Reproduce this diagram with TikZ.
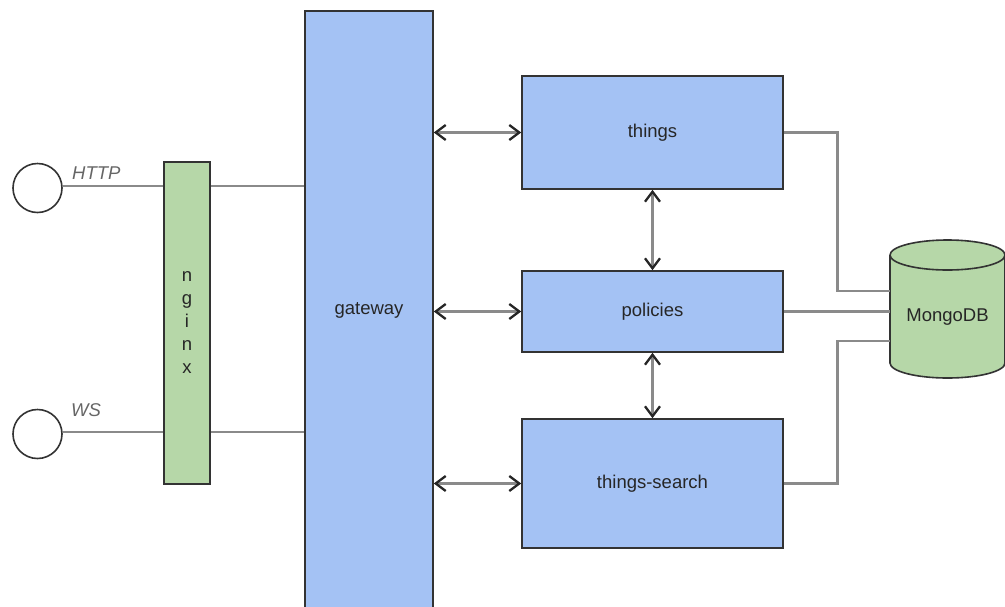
\documentclass[tikz,border=0pt]{standalone}
\usepackage{fontspec}
\setmainfont{Liberation Sans}
\usetikzlibrary{arrows.meta,calc}
\definecolor{boxblue}{HTML}{A4C2F4}
\definecolor{boxgreen}{HTML}{B6D7A8}
\definecolor{edgecol}{HTML}{333333}
\definecolor{wire}{HTML}{8A8A8A}
\definecolor{txt}{HTML}{262626}
\definecolor{lbl}{HTML}{666666}
\begin{document}
\begin{tikzpicture}[x=1pt,y=-1pt,
 box/.style={draw=edgecol, line width=1.6pt, inner sep=0pt, font=\fontsize{18.5}{23}\selectfont, text=txt},
 bluebox/.style={box, fill=boxblue},
 greenbox/.style={box, fill=boxgreen},
 wireline/.style={draw=wire, line width=2.5pt},
 biarrow/.style={wireline, {Straight Barb[length=10pt,width=15pt,color=black!85,line width=2.3pt]}-{Straight Barb[length=10pt,width=15pt,color=black!85,line width=2.3pt]}},
 port/.style={circle, draw=edgecol, line width=1.6pt, minimum size=49pt, inner sep=0pt, fill=white},
 portlabel/.style={font=\fontsize{18.5}{23}\selectfont\itshape, text=lbl, inner sep=0pt, anchor=west},
 plaintext/.style={font=\fontsize{18.5}{23}\selectfont, text=txt, inner sep=0pt}
]
\useasboundingbox (0,0) rectangle (1005,606);
\clip (0,0) rectangle (1005,606);

% ports
\node[port] (http) at (37.5,188) {};
\node[port] (ws) at (37.5,434) {};
\node[portlabel] (httplbl) at (72,173) {HTTP};
\node[portlabel] (wslbl) at (71,410) {WS};

% nginx
\node[greenbox, minimum width=46pt, minimum height=322pt, align=center] (nginx) at (187,323) {n\\g\\i\\n\\x};

% gateway
\node[bluebox, minimum width=128pt, minimum height=598pt] (gateway) at (369,310) {gateway};

% services
\node[bluebox, minimum width=261pt, minimum height=113pt] (things) at (652.5,132.5) {things};
\node[bluebox, minimum width=261pt, minimum height=81pt] (policies) at (652.5,311.5) {policies};
\node[bluebox, minimum width=261pt, minimum height=129pt] (search) at (652.5,483.5) {things-search};

% MongoDB cylinder
\fill[boxgreen] (890,255) -- (890,363) arc[start angle=180,end angle=360,x radius=57.5pt,y radius=15pt]
  -- (1005,255) arc[start angle=0,end angle=180,x radius=57.5pt,y radius=15pt] -- cycle;
\draw[edgecol, line width=1.6pt] (890,255) -- (890,363) arc[start angle=180,end angle=360,x radius=57.5pt,y radius=15pt]
  -- (1005,255) arc[start angle=0,end angle=180,x radius=57.5pt,y radius=15pt];
\draw[edgecol, line width=1.6pt] (890,255) arc[start angle=180,end angle=360,x radius=57.5pt,y radius=15pt];
\node[plaintext] (mongo) at (947.5,317) {MongoDB};

% named coordinates for db connections
\coordinate (db1) at (890,291);
\coordinate (db2) at (890,311.5);
\coordinate (db3) at (890,341);
\coordinate (jx) at (837.5,0);

% left wires
\draw[wireline] (http.east |- 0,186) -- (nginx.west |- 0,186);
\draw[wireline] (nginx.east |- 0,186) -- (gateway.west |- 0,186);
\draw[wireline] (ws.east |- 0,432) -- (nginx.west |- 0,432);
\draw[wireline] (nginx.east |- 0,432) -- (gateway.west |- 0,432);

% gateway to services
\draw[biarrow] (gateway.east |- things.west) -- (things.west);
\draw[biarrow] (gateway.east |- policies.west) -- (policies.west);
\draw[biarrow] (gateway.east |- search.west) -- (search.west);

% service to service
\draw[biarrow] (things.south) -- (policies.north);
\draw[biarrow] (policies.south) -- (search.north);

% services to db
\draw[wireline] (things.east) -| (jx |- db1) -- (db1);
\draw[wireline] (policies.east) -- (db2);
\draw[wireline] (search.east) -| (jx |- db3) -- (db3);
\end{tikzpicture}
\end{document}
